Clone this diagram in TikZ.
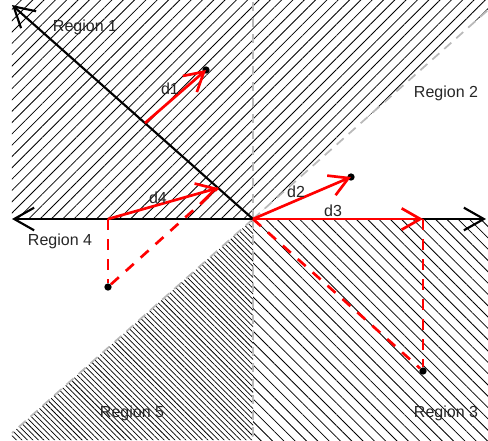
\documentclass[tikz,border=0pt]{standalone}
\usepackage{fontspec}
\setmainfont{Liberation Sans}
\usetikzlibrary{arrows.meta,patterns.meta}

\tikzset{
  axisline/.style={line width=1.6pt, -{Straight Barb[length=15pt,width=17pt]}},
  guide/.style={gray!55, line width=1.3pt, dash pattern=on 7pt off 5pt},
  vec/.style={red, line width=2pt, -{Straight Barb[length=14pt,width=16pt]}},
  proj/.style={red, line width=2pt, dash pattern=on 8pt off 7pt},
  dot/.style={circle, fill=black, inner sep=0pt, minimum size=5.5pt},
  lbl/.style={font=\fontsize{12}{14}\selectfont, text=black!85},
  sparse/.style={pattern={Lines[angle=#1,distance=6pt,line width=0.6pt]}},
  dense/.style={pattern={Lines[angle=#1,distance=2.9pt,line width=0.55pt]}}
}

\begin{document}
\begin{tikzpicture}[x=0.75pt,y=0.75pt]
\useasboundingbox (-253,-221) rectangle (235,219);

\coordinate (O) at (0,0);
\coordinate (L) at (-241,0);
\coordinate (R) at (233,0);
\coordinate (NW) at (-241,214);
\coordinate (NE) at (235,209);
\coordinate (SW) at (-241,-214);
\coordinate (N) at (0,219);
\coordinate (S) at (0,-221);

% hatched regions
\fill[sparse=45] (O) -- (NE) -- (235,219) -- (-241,219) -- (L) -- cycle;
\fill[sparse=-45] (O) -- (235,0) -- (235,-221) -- (S) -- cycle;
\fill[dense=-45] (O) -- (SW) -- (-241,-221) -- (S) -- cycle;

% region borders
\draw[guide] (O) -- (N);
\draw[guide] (O) -- (NE);
\draw[guide] (O) -- (SW);
\draw[guide] (O) -- (S);

% axes
\draw[axisline] (O) -- (L);
\draw[axisline] (O) -- (R);
\draw[axisline] (O) -- (NW);

% points
\node[dot] (p1) at (-47,149) {};
\node[dot] (p2) at (98,42) {};
\node[dot] (p3) at (170,-152) {};
\node[dot] (p4) at (-145,-68) {};
\coordinate (b1) at (-108,96);
\coordinate (b3) at (170,0);
\coordinate (b4) at (-145,0);
\coordinate (t4) at (-35,31);

% distance vectors
\draw[vec] (b1) -- (p1.center);
\draw[vec] (O) -- (p2.center);
\draw[vec] (O) -- (b3);
\draw[vec] (b4) -- (t4);
\draw[proj] (b4) -- (p4);
\draw[proj] (p4) -- (t4);
\draw[proj] (O) -- (p3);
\draw[proj] (b3) -- (p3);

% labels
\node[lbl] (d1) at (-83,130) {d1};
\node[lbl] (d2) at (43,27) {d2};
\node[lbl] (d3) at (80,8) {d3};
\node[lbl] (d4) at (-95,21) {d4};
\node[lbl] (r1) at (-168,192) {Region 1};
\node[lbl] (r2) at (193,126) {Region 2};
\node[lbl] (r3) at (193,-194) {Region 3};
\node[lbl] (r4) at (-193,-22) {Region 4};
\node[lbl] (r5) at (-121,-194) {Region 5};
\end{tikzpicture}
\end{document}
